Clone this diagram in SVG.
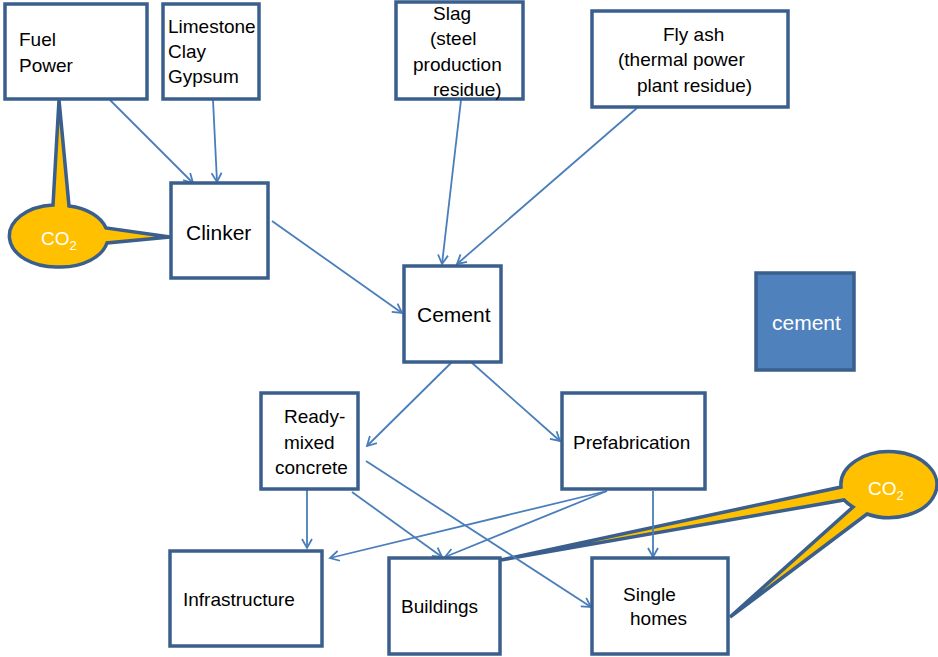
<svg xmlns="http://www.w3.org/2000/svg" width="938" height="657" viewBox="0 0 938 657">
<defs>
<style>
.box{fill:#fff;stroke:#3A5F8C;stroke-width:3.5}
.dark{fill:#4F81BD;stroke:#3A5F8C;stroke-width:3.5}
.t{font-family:"Liberation Sans",Arial,sans-serif;font-size:19px;fill:#000}
.big{font-size:21px}
.w{fill:#fff}
.co{fill:#FFC000;stroke:#3A5F8C;stroke-width:3.5;stroke-linejoin:miter}
.c line{stroke:#4A7EBB;stroke-width:1.8;marker-end:url(#ah)}
</style>
<marker id="ah" markerWidth="12" markerHeight="12" refX="10" refY="6" orient="auto" markerUnits="userSpaceOnUse">
<path d="M1,1 L10,6 L1,11" fill="none" stroke="#4A7EBB" stroke-width="1.8"/>
</marker>
</defs>
<rect width="938" height="657" fill="#fff"/>

<g id="co2-left">
<path class="co" d="M59,100 L53,205 A47,31 0 0 0 60,267 A47,31 0 0 0 107,243 L170,237 L106,228 A47,31 0 0 0 69,206 Z"/>
<text class="t w" x="41" y="245">CO<tspan font-size="13" dy="5">2</tspan></text>
</g>

<g id="co2-right">
<path class="co" d="M501,560 L844,500 A48,33 0 0 0 853,507 L730,617 L867,514 A48,33 0 1 0 841,487 Z"/>
<text class="t w" x="868" y="495">CO<tspan font-size="13" dy="5">2</tspan></text>
</g>

<g class="c" id="connectors">
<line x1="110" y1="100" x2="193" y2="183"/>
<line x1="213" y1="100" x2="217" y2="182"/>
<line x1="461" y1="100" x2="442" y2="264"/>
<line x1="637" y1="108" x2="457" y2="264"/>
<line x1="272" y1="221" x2="402" y2="313"/>
<line x1="452" y1="362" x2="367" y2="446"/>
<line x1="471" y1="362" x2="560" y2="441"/>
<line x1="307" y1="484" x2="307" y2="548"/>
<line x1="352" y1="492" x2="442" y2="557"/>
<line x1="366" y1="461" x2="591" y2="607"/>
<line x1="607" y1="491" x2="330" y2="558"/>
<line x1="607" y1="491" x2="445" y2="557"/>
<line x1="653" y1="491" x2="653" y2="557"/>
</g>

<g id="fuel"><rect class="box" x="5" y="4" width="142" height="95"/>
<text class="t" x="19" y="46">Fuel</text><text class="t" x="19" y="72">Power</text></g>

<g id="limestone"><rect class="box" x="163" y="4" width="96" height="95"/>
<text class="t" x="168" y="33">Limestone</text><text class="t" x="168" y="58">Clay</text><text class="t" x="168" y="83">Gypsum</text></g>

<g id="slag"><rect class="box" x="396" y="2" width="127" height="97"/>
<text class="t" x="433" y="20">Slag</text><text class="t" x="430" y="45">(steel</text><text class="t" x="413" y="71">production</text><text class="t" x="433" y="96">residue)</text></g>

<g id="flyash"><rect class="box" x="592" y="11" width="196" height="96"/>
<text class="t" x="663" y="41">Fly ash</text><text class="t" x="618" y="66">(thermal power</text><text class="t" x="637" y="92">plant residue)</text></g>

<g id="clinker"><rect class="box" x="171" y="183" width="97" height="95"/>
<text class="t big" x="186" y="240">Clinker</text></g>

<g id="cement"><rect class="box" x="404" y="266" width="97" height="96"/>
<text class="t big" x="417" y="322">Cement</text></g>

<g id="cement-legend"><rect class="dark" x="756" y="273" width="98" height="97"/>
<text class="t big w" x="772" y="330">cement</text></g>

<g id="readymixed"><rect class="box" x="261" y="393" width="97" height="96"/>
<text class="t" x="284" y="423">Ready-</text><text class="t" x="284" y="449">mixed</text><text class="t" x="275" y="474">concrete</text></g>

<g id="prefab"><rect class="box" x="562" y="393" width="143" height="96"/>
<text class="t" x="573" y="449">Prefabrication</text></g>

<g id="infrastructure"><rect class="box" x="170" y="551" width="152" height="95"/>
<text class="t" x="183" y="606">Infrastructure</text></g>

<g id="buildings"><rect class="box" x="389" y="558" width="111" height="96"/>
<text class="t" x="401" y="613">Buildings</text></g>

<g id="singlehomes"><rect class="box" x="592" y="558" width="136" height="96"/>
<text class="t" x="623" y="601">Single</text><text class="t" x="630" y="625">homes</text></g>
</svg>
